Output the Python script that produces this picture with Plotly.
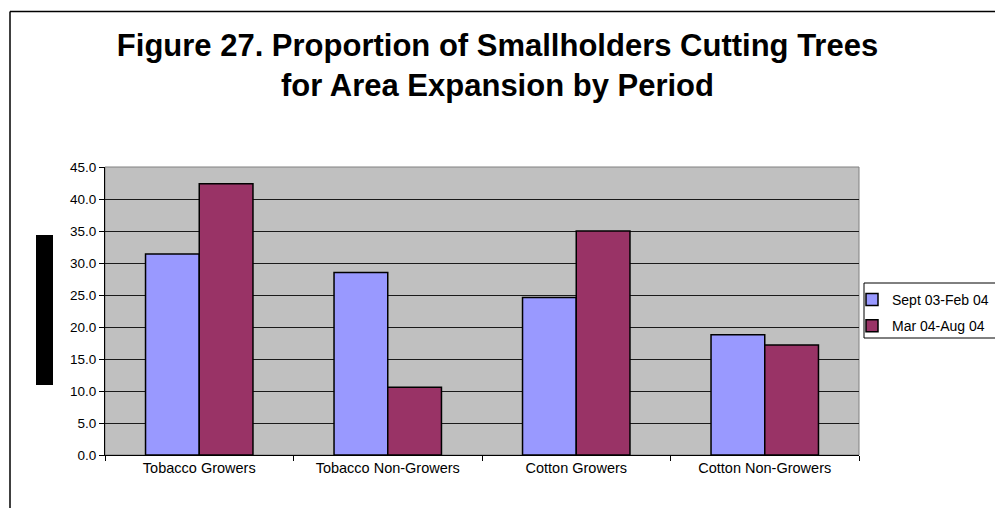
import plotly.graph_objects as go

categories = ["Tobacco Growers", "Tobacco Non-Growers", "Cotton Growers", "Cotton Non-Growers"]
series_names = ["Sept 03-Feb 04", "Mar 04-Aug 04"]
sept_values = [31.4, 28.5, 24.6, 18.8]
mar_values = [42.4, 10.6, 35.0, 17.2]
y_ticks = [0, 5, 10, 15, 20, 25, 30, 35, 40, 45]

FONT = "Liberation Sans, Arial, sans-serif"
W, H = 995, 508
L, R, T, B = 105, 136, 167, 53
pw = W - L - R
ph = H - T - B

def px(x):
    return (x - L) / pw

def py(y):
    return (H - B - y) / ph

fig = go.Figure()
fig.add_trace(go.Bar(x=categories, y=sept_values, name=series_names[0], legendgroup="a",
                     marker=dict(color="#9999FF", line=dict(color="black", width=1.5))))
fig.add_trace(go.Bar(x=categories, y=mar_values, name=series_names[1], legendgroup="b",
                     marker=dict(color="#993366", line=dict(color="black", width=1.5))))

fig.update_layout(
    width=W, height=H,
    margin=dict(l=L, r=R, t=T, b=B, autoexpand=False),
    paper_bgcolor="white",
    plot_bgcolor="#C0C0C0",
    barmode="group",
    bargap=0.43,
    bargroupgap=0,
    font=dict(family=FONT, color="black", size=12),
    title=dict(
        text="<b>Figure 27. Proportion of Smallholders Cutting Trees<br>for Area Expansion by Period</b>",
        x=0.5, xref="container", xanchor="center",
        y=(H - 56) / H, yref="container", yanchor="top",
        font=dict(family=FONT, size=31, color="black"),
    ),
    legend=dict(
        x=852 / W, y=(H - 284) / H, xref="container", yref="container",
        xanchor="left", yanchor="top",
        borderwidth=0, bgcolor="rgba(0,0,0,0)",
        font=dict(family=FONT, size=14),
        itemwidth=30, tracegroupgap=5, traceorder="grouped",
    ),
    xaxis=dict(
        showline=True, linecolor="black", linewidth=1,
        ticks="outside", tickson="boundaries", ticklen=5, tickcolor="black",
        showgrid=False, tickfont=dict(size=14.5),
        mirror=False,
    ),
    yaxis=dict(
        range=[0, 45], tickvals=y_ticks, tickformat=".1f",
        showline=True, linecolor="black", linewidth=1,
        ticks="outside", ticklen=5, tickcolor="black",
        showgrid=True, gridcolor="#1a1a1a", gridwidth=1,
        zeroline=False, tickfont=dict(size=13.5),
    ),
    showlegend=True,
)

# plot area border (gray)
fig.add_shape(type="rect", xref="paper", yref="paper", x0=0, x1=1, y0=0, y1=1,
              line=dict(color="#808080", width=1), fillcolor="rgba(0,0,0,0)", layer="below")
# legend frame
fig.add_shape(type="rect", xref="paper", yref="paper", x0=px(864), x1=px(1000), y0=py(338), y1=py(283),
              line=dict(color="black", width=1), fillcolor="white", layer="below")
# chart outer border (top and left visible)
fig.add_shape(type="line", xref="paper", yref="paper", x0=px(10), x1=px(1000), y0=py(11.5), y1=py(11.5),
              line=dict(color="black", width=1.5))
fig.add_shape(type="line", xref="paper", yref="paper", x0=px(10), x1=px(10), y0=py(11.5), y1=py(520),
              line=dict(color="black", width=1.5))
# black block left of y axis
fig.add_shape(type="rect", xref="paper", yref="paper", x0=px(36), x1=px(53), y0=py(385), y1=py(235),
              line=dict(width=0), fillcolor="black")

fig.write_html("out.html", config={"displayModeBar": False},
               post_script="document.body.style.margin='0';document.body.style.overflow='hidden';")
